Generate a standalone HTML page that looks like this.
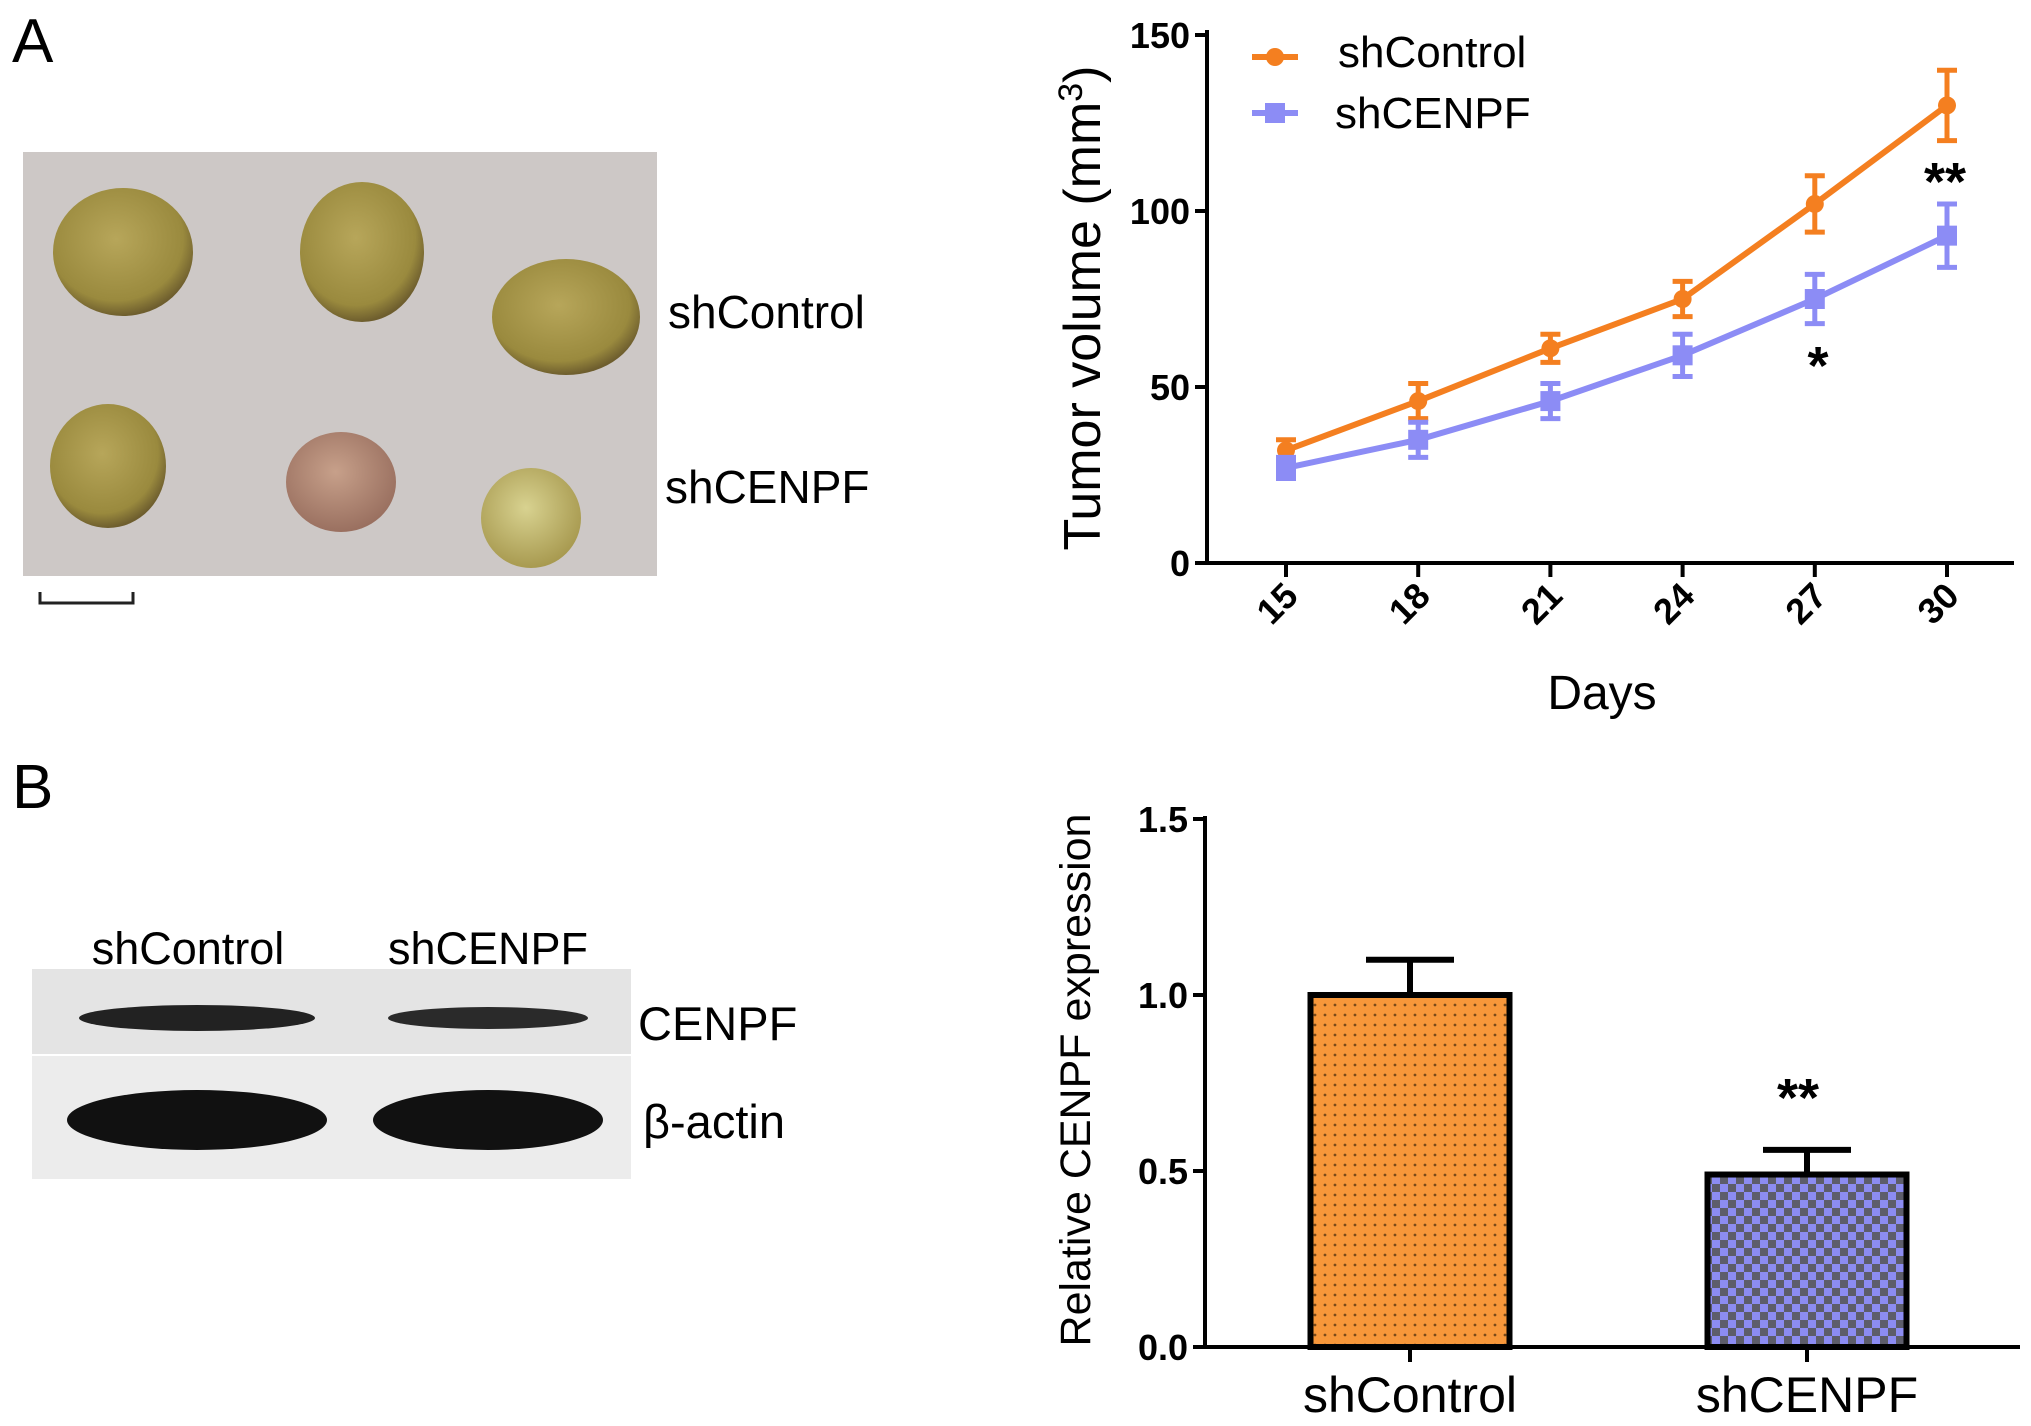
<!DOCTYPE html>
<html><head><meta charset="utf-8"><style>
html,body{margin:0;padding:0;background:#fff;}
svg{display:block;font-family:"Liberation Sans",Arial,sans-serif;}
</style></head><body>
<svg id="fig" width="2031" height="1426" viewBox="0 0 2031 1426" xmlns="http://www.w3.org/2000/svg">
<defs>
<pattern id="dots" width="10" height="10" patternUnits="userSpaceOnUse"><rect width="10" height="10" fill="#f7973a"/><circle cx="5" cy="5" r="1.4" fill="#7a4a1a"/></pattern>
<pattern id="checks" width="16" height="16" patternUnits="userSpaceOnUse"><rect width="16" height="16" fill="#8c8cf2"/><rect width="8" height="8" fill="#5d5d6a"/><rect x="8" y="8" width="8" height="8" fill="#5d5d6a"/></pattern>
<radialGradient id="tum" cx="45%" cy="40%" r="60%"><stop offset="0" stop-color="#b7a65a"/><stop offset="0.8" stop-color="#9a8a3e"/><stop offset="1" stop-color="#6e5e2e"/></radialGradient>
<radialGradient id="tum2" cx="45%" cy="40%" r="60%"><stop offset="0" stop-color="#c7a08a"/><stop offset="1" stop-color="#9a7060"/></radialGradient>
<radialGradient id="tum3" cx="45%" cy="40%" r="60%"><stop offset="0" stop-color="#d8d290"/><stop offset="1" stop-color="#a89a50"/></radialGradient>
</defs>
<text x="12" y="62" font-size="62">A</text>
<text x="12" y="808" font-size="62">B</text>
<g>
<rect x="23" y="152" width="634" height="424" fill="#cdc8c6"/>
<ellipse cx="123" cy="252" rx="70" ry="64" fill="url(#tum)"/>
<ellipse cx="362" cy="252" rx="62" ry="70" fill="url(#tum)"/>
<ellipse cx="566" cy="317" rx="74" ry="58" fill="url(#tum)"/>
<ellipse cx="108" cy="466" rx="58" ry="62" fill="url(#tum)"/>
<ellipse cx="341" cy="482" rx="55" ry="50" fill="url(#tum2)"/>
<ellipse cx="531" cy="518" rx="50" ry="50" fill="url(#tum3)"/>
</g>
<text x="668" y="328" font-size="46">shControl</text>
<text x="665" y="503" font-size="46">shCENPF</text>
<path d="M40 592 V603 H133 V592" fill="none" stroke="#222" stroke-width="3"/>
<g>
<rect x="32" y="969" width="599" height="85" fill="#e4e4e4"/>
<rect x="32" y="1056" width="599" height="123" fill="#ececec"/>
<ellipse cx="197" cy="1018" rx="118" ry="13" fill="#222"/>
<ellipse cx="488" cy="1018" rx="100" ry="11" fill="#2a2a2a"/>
<ellipse cx="197" cy="1120" rx="130" ry="30" fill="#111"/>
<ellipse cx="488" cy="1120" rx="115" ry="30" fill="#111"/>
</g>
<text x="188" y="964" font-size="45" text-anchor="middle">shControl</text>
<text x="488" y="964" font-size="45" text-anchor="middle">shCENPF</text>
<text x="638" y="1040" font-size="47">CENPF</text>
<text x="643" y="1138" font-size="47">β-actin</text>
<g id="line"></g>
<g id="bar"></g>
</svg>
<script>
const NS="http://www.w3.org/2000/svg";
function mk(p,tag,a,txt){const e=document.createElementNS(NS,tag);for(const k in a)e.setAttribute(k,a[k]);if(txt!==undefined)e.textContent=txt;p.appendChild(e);return e;}
// ---- line chart data ----
const days=[15,18,21,24,27,30];
const ctrlMean=[32,46,61,75,102,130];
const ctrlErr=[3,5,4,5,8,10];
const cenpfMean=[27,35,46,59,75,93];
const cenpfErr=[3,5,5,6,7,9];
const lineYTicks=[0,50,100,150];
// ---- bar chart data ----
const barCats=["shControl","shCENPF"];
const barVals=[1.0,0.49];
const barErr=[0.1,0.07];
const barYTicks=["0.0","0.5","1.0","1.5"];

const L=document.getElementById('line');
const lx=d=>1286+(d-15)*(1947-1286)/15;
const ly=v=>563-v*(563-35)/150;
mk(L,'line',{x1:1207,y1:30,x2:1207,y2:565,stroke:'#000','stroke-width':4});
mk(L,'line',{x1:1205,y1:563,x2:2014,y2:563,stroke:'#000','stroke-width':4});
lineYTicks.forEach(t=>{
 mk(L,'line',{x1:1195,y1:ly(t),x2:1207,y2:ly(t),stroke:'#000','stroke-width':4});
 const e=mk(L,'text',{x:1190,y:ly(t)+13,'font-size':36,'font-weight':'bold','text-anchor':'end'},t);
 
 
});
days.forEach(d=>{
 mk(L,'line',{x1:lx(d),y1:563,x2:lx(d),y2:577,stroke:'#000','stroke-width':4});
 const e=mk(L,'text',{x:0,y:0,'font-size':36,'font-weight':'bold','text-anchor':'end',transform:`translate(${lx(d)+14},${598}) rotate(-45)`},d);
 
 
});
function series(mean,err,color,marker,name){
 const g=mk(L,'g',{});
 
 
 mk(g,'polyline',{points:days.map((d,i)=>lx(d)+','+ly(mean[i])).join(' '),fill:'none',stroke:color,'stroke-width':6});
 days.forEach((d,i)=>{
  const x=lx(d),y1=ly(mean[i]+err[i]),y2=ly(mean[i]-err[i]);
  mk(g,'path',{d:`M${x} ${y1}V${y2}M${x-10} ${y1}H${x+10}M${x-10} ${y2}H${x+10}`,stroke:color,'stroke-width':5,fill:'none'});
  if(marker==='c')mk(g,'circle',{cx:x,cy:ly(mean[i]),r:9,fill:color});
  else mk(g,'rect',{x:x-10,y:ly(mean[i])-10,width:20,height:20,fill:color});
 });
}
series(ctrlMean,ctrlErr,'#f47f20','c','series-shcontrol');
series(cenpfMean,cenpfErr,'#8c8cf5','s','series-shcenpf');
const lg1=mk(L,'g',{});


mk(lg1,'line',{x1:1252,y1:57,x2:1298,y2:57,stroke:'#f47f20','stroke-width':6});
mk(lg1,'circle',{cx:1275,cy:57,r:9,fill:'#f47f20'});
mk(lg1,'text',{x:1338,y:67,'font-size':44},'shControl');
const lg2=mk(L,'g',{});


mk(lg2,'line',{x1:1252,y1:113,x2:1298,y2:113,stroke:'#8c8cf5','stroke-width':6});
mk(lg2,'rect',{x:1265,y:103,width:20,height:20,fill:'#8c8cf5'});
mk(lg2,'text',{x:1335,y:128,'font-size':44},'shCENPF');
const yt=mk(L,'text',{x:0,y:0,'font-size':52,'text-anchor':'middle',transform:'translate(1100,308) rotate(-90)'});
yt.innerHTML='Tumor volume (mm<tspan dy="-18" font-size="34">3</tspan><tspan dy="18">)</tspan>';


const xt=mk(L,'text',{x:1602,y:709,'font-size':48,'text-anchor':'middle'},'Days');


const s1=mk(L,'text',{x:1818,y:384,'font-size':54,'font-weight':'bold','text-anchor':'middle'},'*');


const s2=mk(L,'text',{x:1945,y:200,'font-size':54,'font-weight':'bold','text-anchor':'middle'},'**');



// ---- bar chart ----
const B=document.getElementById('bar');
const by=v=>1347-v*(1347-819)/1.5;
const bx=[1410,1807];
const bw=199;
mk(B,'line',{x1:1205,y1:816,x2:1205,y2:1349,stroke:'#000','stroke-width':4});
mk(B,'line',{x1:1203,y1:1347,x2:2020,y2:1347,stroke:'#000','stroke-width':4});
barYTicks.forEach(t=>{
 mk(B,'line',{x1:1193,y1:by(+t),x2:1205,y2:by(+t),stroke:'#000','stroke-width':4});
 const e=mk(B,'text',{x:1188,y:by(+t)+13,'font-size':36,'font-weight':'bold','text-anchor':'end'},t);
 
 
});
barCats.forEach((c,i)=>{
 const x=bx[i],top=by(barVals[i]),et=by(barVals[i]+barErr[i]);
 mk(B,'path',{d:`M${x} ${top}V${et}M${x-44} ${et}H${x+44}`,stroke:'#000','stroke-width':6,fill:'none'});
 const r=mk(B,'rect',{x:x-bw/2,y:top,width:bw,height:1347-top,fill:i===0?'url(#dots)':'url(#checks)',stroke:'#000','stroke-width':6});
 
 
 mk(B,'line',{x1:x,y1:1347,x2:x,y2:1362,stroke:'#000','stroke-width':4});
 const t=mk(B,'text',{x:x,y:1412,'font-size':50,'text-anchor':'middle'},c);
 
 
});
const s3=mk(B,'text',{x:1798,y:1116,'font-size':54,'font-weight':'bold','text-anchor':'middle'},'**');


const byt=mk(B,'text',{x:0,y:0,'font-size':43,'text-anchor':'middle',transform:'translate(1090,1080) rotate(-90)'},'Relative CENPF expression');


</script>
</body></html>
